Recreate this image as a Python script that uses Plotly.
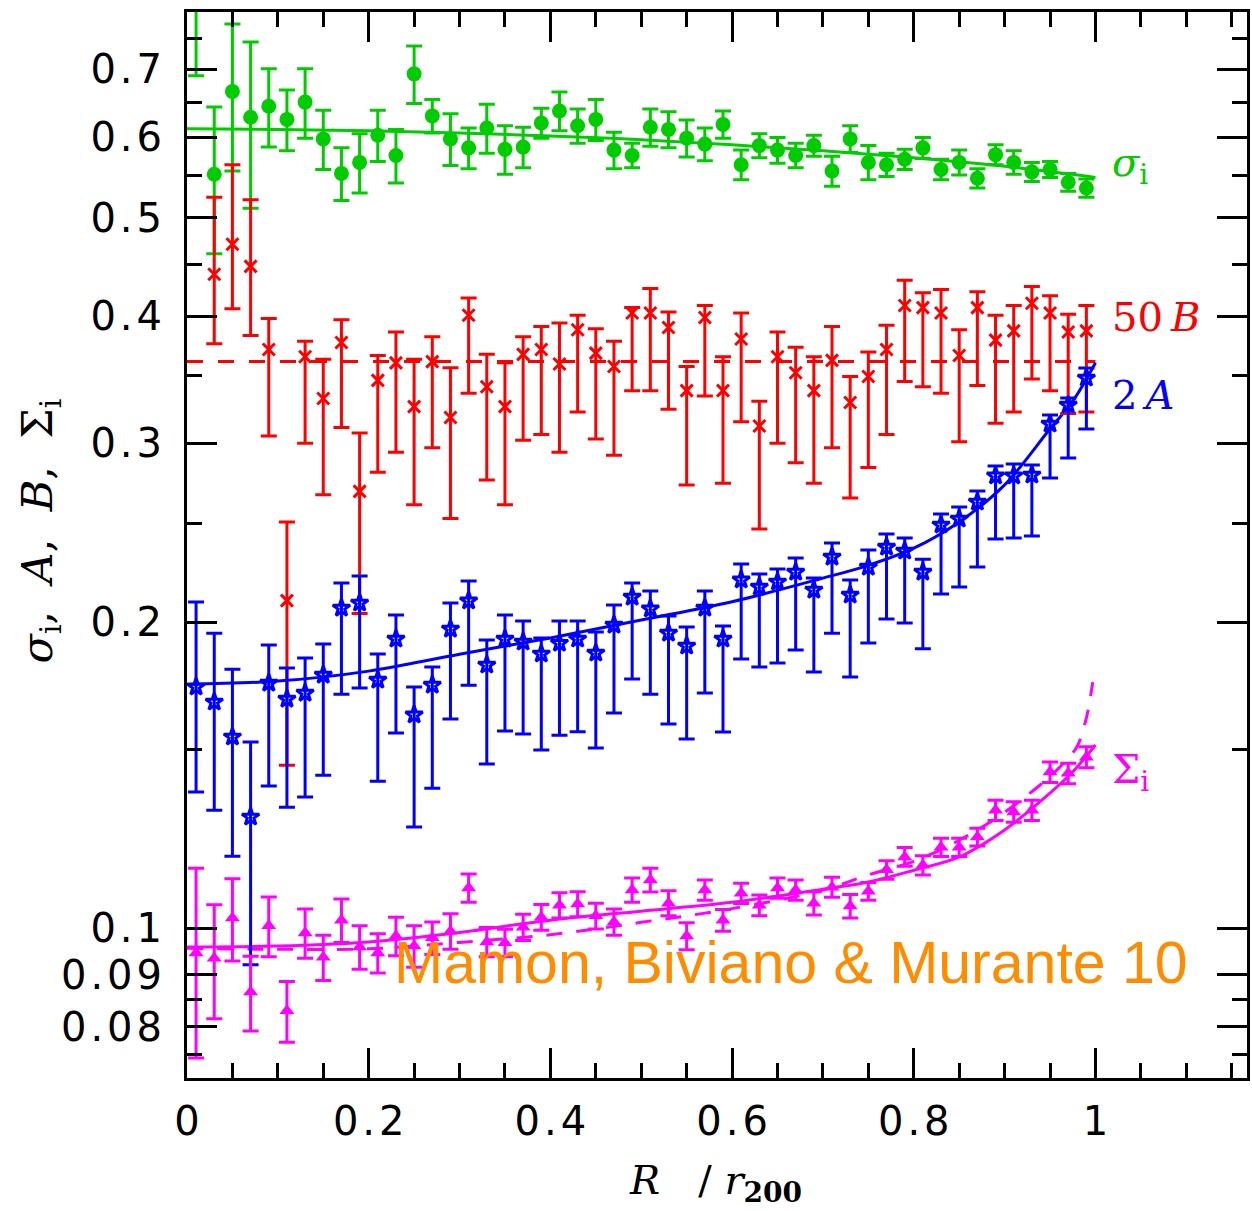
import plotly.graph_objects as go

# Projected radius bins, R / r200
R = [0.01, 0.03, 0.05, 0.07, 0.09, 0.11, 0.13, 0.15, 0.17, 0.19,
     0.21, 0.23, 0.25, 0.27, 0.29, 0.31, 0.33, 0.35, 0.37, 0.39,
     0.41, 0.43, 0.45, 0.47, 0.49, 0.51, 0.53, 0.55, 0.57, 0.59,
     0.61, 0.63, 0.65, 0.67, 0.69, 0.71, 0.73, 0.75, 0.77, 0.79,
     0.81, 0.83, 0.85, 0.87, 0.89, 0.91, 0.93, 0.95, 0.97, 0.99]

# sigma_i: interloper velocity dispersion
sigma_i = [0.840, 0.552, 0.666, 0.628, 0.644, 0.625, 0.650, 0.598, 0.553, 0.567,
           0.603, 0.576, 0.693, 0.630, 0.598, 0.586, 0.613, 0.584, 0.587, 0.620,
           0.637, 0.616, 0.625, 0.583, 0.576, 0.614, 0.611, 0.599, 0.591, 0.618,
           0.564, 0.589, 0.583, 0.576, 0.589, 0.556, 0.598, 0.567, 0.564, 0.571,
           0.586, 0.558, 0.567, 0.547, 0.577, 0.567, 0.555, 0.558, 0.542, 0.535]
sigma_i_err = [0.150, 0.091, 0.110, 0.117, 0.057, 0.043, 0.051, 0.040, 0.033, 0.038,
               0.035, 0.035, 0.045, 0.024, 0.035, 0.027, 0.034, 0.032, 0.027, 0.021,
               0.028, 0.024, 0.029, 0.024, 0.016, 0.026, 0.025, 0.025, 0.022, 0.019,
               0.019, 0.016, 0.017, 0.016, 0.014, 0.019, 0.018, 0.022, 0.015, 0.013,
               0.014, 0.013, 0.016, 0.012, 0.013, 0.015, 0.012, 0.010, 0.011, 0.011]

# 50 B (no measurement in the innermost bin)
B50 = [None, 0.440, 0.471, 0.448, 0.371, 0.210, 0.365, 0.332, 0.377, 0.269,
       0.346, 0.360, 0.326, 0.361, 0.318, 0.401, 0.341, 0.326, 0.367, 0.371,
       0.359, 0.388, 0.368, 0.357, 0.403, 0.403, 0.390, 0.338, 0.399, 0.338,
       0.380, 0.312, 0.365, 0.352, 0.338, 0.362, 0.329, 0.349, 0.371, 0.410,
       0.408, 0.403, 0.366, 0.408, 0.379, 0.387, 0.412, 0.403, 0.386, 0.387]
B50_hi = [None, 0.524, 0.564, 0.521, 0.398, 0.251, 0.378, 0.363, 0.397, 0.307,
          0.366, 0.386, 0.363, 0.382, 0.356, 0.417, 0.367, 0.360, 0.382, 0.391,
          0.394, 0.401, 0.389, 0.378, 0.408, 0.426, 0.404, 0.357, 0.410, 0.365,
          0.403, 0.330, 0.386, 0.373, 0.365, 0.391, 0.349, 0.369, 0.392, 0.434,
          0.422, 0.425, 0.388, 0.423, 0.401, 0.410, 0.428, 0.419, 0.402, 0.410]
B50_lo = [None, 0.376, 0.407, 0.383, 0.305, 0.1446, 0.300, 0.267, 0.311, 0.204,
          0.281, 0.294, 0.261, 0.297, 0.253, 0.336, 0.276, 0.261, 0.302, 0.306,
          0.294, 0.322, 0.303, 0.292, 0.338, 0.338, 0.324, 0.273, 0.334, 0.274,
          0.315, 0.247, 0.300, 0.287, 0.274, 0.297, 0.265, 0.284, 0.306, 0.345,
          0.341, 0.336, 0.301, 0.342, 0.314, 0.322, 0.347, 0.338, 0.321, 0.322]
B50_fit = 0.361

# 2 A
A2 = [0.1727, 0.1669, 0.1542, 0.1286, 0.1742, 0.1680, 0.1703, 0.1774, 0.2065, 0.2089,
      0.1754, 0.1925, 0.1621, 0.1734, 0.1969, 0.2099, 0.1815, 0.1925, 0.1912, 0.1861,
      0.1907, 0.1925, 0.1865, 0.1987, 0.2117, 0.2061, 0.1951, 0.1895, 0.2065, 0.1925,
      0.2201, 0.2166, 0.2191, 0.2240, 0.2151, 0.2318, 0.2127, 0.2266, 0.2371, 0.2350,
      0.2240, 0.2493, 0.2527, 0.2626, 0.2786, 0.2786, 0.2792, 0.3134, 0.3272, 0.3478]
A2_hi = [0.2094, 0.1951, 0.1798, 0.1524, 0.1899, 0.1803, 0.1844, 0.1904, 0.2186, 0.2221,
         0.1861, 0.2033, 0.1727, 0.1807, 0.2089, 0.2196, 0.1921, 0.2033, 0.2005, 0.1930,
         0.2005, 0.2005, 0.1956, 0.2079, 0.2186, 0.2147, 0.2028, 0.1978, 0.2147, 0.1983,
         0.2282, 0.2231, 0.2256, 0.2313, 0.2211, 0.2393, 0.2201, 0.2356, 0.2443, 0.2421,
         0.2307, 0.2556, 0.2597, 0.2693, 0.2850, 0.2862, 0.2856, 0.3198, 0.3324, 0.3558]
A2_lo = [0.1361, 0.1306, 0.1177, 0.0920, 0.1380, 0.1315, 0.1346, 0.1414, 0.1699, 0.1723,
         0.1395, 0.1556, 0.1257, 0.1373, 0.1606, 0.1734, 0.1450, 0.1563, 0.1552, 0.1497,
         0.1548, 0.1560, 0.1504, 0.1628, 0.1758, 0.1699, 0.1588, 0.1535, 0.1703, 0.1559,
         0.1840, 0.1807, 0.1823, 0.1878, 0.1786, 0.1951, 0.1766, 0.1908, 0.2015, 0.1996,
         0.1883, 0.2132, 0.2166, 0.2266, 0.2415, 0.2421, 0.2432, 0.2773, 0.2901, 0.3098]

# Sigma_i: interloper surface density
Sig_i = [0.0945, 0.0934, 0.1023, 0.0865, 0.1005, 0.0829, 0.0989, 0.0936, 0.1018, 0.0958,
         0.0945, 0.0982, 0.0960, 0.0978, 0.0993, 0.1095, 0.0969, 0.0967, 0.1002, 0.1025,
         0.1053, 0.1056, 0.1028, 0.1014, 0.1090, 0.1115, 0.1058, 0.0982, 0.1090, 0.1018,
         0.1082, 0.1053, 0.1095, 0.1090, 0.1058, 0.1097, 0.1051, 0.1087, 0.1141, 0.1175,
         0.1153, 0.1201, 0.1201, 0.1229, 0.1306, 0.1301, 0.1306, 0.1424, 0.1420, 0.1473]
Sig_i_err = [0.0200, 0.0120, 0.0095, 0.0073, 0.0068, 0.0057, 0.0055, 0.0048, 0.0050, 0.0047,
             0.0042, 0.0043, 0.0045, 0.0036, 0.0040, 0.0035, 0.0032, 0.0030, 0.0030, 0.0030,
             0.0030, 0.0030, 0.0030, 0.0030, 0.0030, 0.0030, 0.0030, 0.0030, 0.0025, 0.0025,
             0.0025, 0.0025, 0.0025, 0.0025, 0.0028, 0.0025, 0.0028, 0.0022, 0.0024, 0.0025,
             0.0025, 0.0025, 0.0025, 0.0025, 0.0030, 0.0030, 0.0030, 0.0033, 0.0033, 0.0035]

# Model fits
fit_R_sigma = [0.0, 0.1, 0.2, 0.3, 0.4, 0.5, 0.6, 0.7, 0.8, 0.9, 1.0]
fit_sigma = [0.612, 0.611, 0.609, 0.606, 0.602, 0.597, 0.590, 0.582, 0.573, 0.562, 0.548]

fit_R = [0.0, 0.1, 0.2, 0.3, 0.4, 0.5, 0.6, 0.7, 0.75, 0.8, 0.85, 0.9, 0.95, 0.975, 1.0]
fit_A2 = [0.1738, 0.1750, 0.1790, 0.1860, 0.1930, 0.2010, 0.2095, 0.2210, 0.2275,
          0.2365, 0.2510, 0.2730, 0.3100, 0.3300, 0.3600]
fit_Sig = [0.0958, 0.0960, 0.0969, 0.0990, 0.1018, 0.1039, 0.1060, 0.1092, 0.1110,
           0.1140, 0.1175, 0.1249, 0.1358, 0.1425, 0.1514]

fit_R_alt = [0.0, 0.1, 0.2, 0.3, 0.4, 0.5, 0.6, 0.7, 0.75, 0.8, 0.85, 0.9, 0.95,
             0.97, 0.98, 0.99, 0.997]
fit_Sig_alt = [0.0955, 0.0953, 0.0954, 0.0968, 0.0985, 0.1013, 0.1045, 0.1090, 0.1128,
               0.1163, 0.1220, 0.1300, 0.1410, 0.1470, 0.1510, 0.1610, 0.1746]

# Axis ticks
x_ticks = [0, 0.2, 0.4, 0.6, 0.8, 1.0]
x_ticktext = ["0", "0.2", "0.4", "0.6", "0.8", "1"]
x_minor = [0.05, 0.1, 0.15, 0.25, 0.3, 0.35, 0.45, 0.5, 0.55, 0.65, 0.7, 0.75,
           0.85, 0.9, 0.95, 1.05, 1.1, 1.15]
y_ticks = [0.08, 0.09, 0.1, 0.2, 0.3, 0.4, 0.5, 0.6, 0.7]
y_ticktext = ["0.08", "0.09", "0.1", "0.2", "0.3", "0.4", "0.5", "0.6", "0.7"]
y_minor = [0.075, 0.085, 0.15, 0.25, 0.35, 0.45, 0.55, 0.65, 0.75]

GREEN = "#00cc00"
RED = "#ff0000"
BLUE = "#0000ff"
MAGENTA = "#ff00ff"
ORANGE = "#ff8c00"

TICK_FONT = "DejaVu Sans"
SERIF = "DejaVu Serif"
HAIR = "\u200a"


def spaced(label):
    # open up the tick-label glyphs a little
    return HAIR.join(label)


fig = go.Figure()

# fitted curves
fig.add_trace(go.Scatter(x=fit_R_sigma, y=fit_sigma, mode="lines", line_shape="spline",
                         line=dict(color=GREEN, width=3), showlegend=False))
fig.add_trace(go.Scatter(x=[0.0, 1.0], y=[B50_fit, B50_fit], mode="lines",
                         line=dict(color=RED, width=3, dash="16px,15px"), showlegend=False))
fig.add_trace(go.Scatter(x=fit_R, y=fit_A2, mode="lines", line_shape="spline",
                         line=dict(color=BLUE, width=3), showlegend=False))
fig.add_trace(go.Scatter(x=fit_R, y=fit_Sig, mode="lines", line_shape="spline",
                         line=dict(color=MAGENTA, width=3), showlegend=False))
fig.add_trace(go.Scatter(x=fit_R_alt, y=fit_Sig_alt, mode="lines", line_shape="spline",
                         line=dict(color=MAGENTA, width=3, dash="16px,14px"), showlegend=False))

# measurements
fig.add_trace(go.Scatter(
    x=R, y=sigma_i, mode="markers",
    marker=dict(symbol="circle", size=15, color=GREEN),
    error_y=dict(type="data", array=sigma_i_err, color=GREEN, thickness=3, width=8),
    showlegend=False))

B50_up = [None if v is None else h - v for v, h in zip(B50, B50_hi)]
B50_dn = [None if v is None else v - l for v, l in zip(B50, B50_lo)]
fig.add_trace(go.Scatter(
    x=R, y=B50, mode="markers",
    marker=dict(symbol="x-thin", size=12, color=RED, line=dict(color=RED, width=3)),
    error_y=dict(type="data", symmetric=False, array=B50_up, arrayminus=B50_dn,
                 color=RED, thickness=3, width=8),
    showlegend=False))

A2_up = [h - v for v, h in zip(A2, A2_hi)]
A2_dn = [v - l for v, l in zip(A2, A2_lo)]
fig.add_trace(go.Scatter(
    x=R, y=A2, mode="markers",
    marker=dict(symbol="star-open", size=13, color=BLUE, line=dict(color=BLUE, width=3)),
    error_y=dict(type="data", symmetric=False, array=A2_up, arrayminus=A2_dn,
                 color=BLUE, thickness=3, width=8),
    showlegend=False))

fig.add_trace(go.Scatter(
    x=R, y=Sig_i, mode="markers",
    marker=dict(symbol="triangle-up", size=13, color=MAGENTA),
    error_y=dict(type="data", array=Sig_i_err, color=MAGENTA, thickness=3, width=8),
    showlegend=False))

# curve labels
labels = [
    ("<i>σ</i><sub>i</sub>", -0.249, GREEN),
    ("50\u2009<i>B</i>", -0.3986, RED),
    ("2\u2009<i>A</i>", -0.4754, BLUE),
    ("Σ<sub>i</sub>", -0.8465, MAGENTA),
]
for text, ylog, col in labels:
    fig.add_annotation(x=1.0165, y=ylog, xref="x", yref="y", text=text, showarrow=False,
                       xanchor="left", yanchor="middle",
                       font=dict(family=SERIF, size=40, color=col))

fig.add_annotation(x=0.226, y=-1.0344, xref="x", yref="y",
                   text="Mamon, Biviano &amp; Murante 10", showarrow=False,
                   xanchor="left", yanchor="middle",
                   font=dict(family="Liberation Sans", size=59, color=ORANGE))

# axis titles
fig.add_annotation(x=-0.1383, y=0.5131, xref="paper", yref="paper",
                   text="<i>σ</i><sub>i</sub>,&nbsp;&nbsp;<i>A</i>,&nbsp;&nbsp;<i>B</i>,"
                        "&nbsp;&nbsp;Σ<sub>i</sub>",
                   textangle=-90, showarrow=False, xanchor="center", yanchor="middle",
                   font=dict(family=SERIF, size=43, color="black"))
fig.add_annotation(x=0.4986, y=-0.0985, xref="paper", yref="paper",
                   text="<i>R</i>   / <i>r</i><sub><b>200</b></sub>",
                   showarrow=False, xanchor="center", yanchor="middle",
                   font=dict(family=SERIF, size=40, color="black"))

axis_common = dict(
    showline=True, linewidth=3, linecolor="black", mirror="ticks",
    ticks="inside", ticklen=30, tickwidth=3, tickcolor="black",
    showgrid=False, zeroline=False,
    tickfont=dict(family=TICK_FONT, size=40, color="black"),
)

fig.update_layout(
    width=1252, height=1211,
    margin=dict(l=187, r=2, t=12, b=133),
    paper_bgcolor="white", plot_bgcolor="white",
    xaxis=dict(range=[0, 1.1668], tickmode="array", tickvals=x_ticks,
               ticktext=[spaced(t) for t in x_ticktext], ticklabelstandoff=6,
               minor=dict(tickmode="array", tickvals=x_minor, ticks="inside", ticklen=15,
                          tickwidth=3, tickcolor="black", showgrid=False),
               **axis_common),
    yaxis=dict(type="log", range=[-1.1476, -0.0984], tickmode="array", tickvals=y_ticks,
               ticktext=[spaced(t) for t in y_ticktext], ticklabelstandoff=14,
               minor=dict(tickmode="array", tickvals=y_minor, ticks="inside", ticklen=15,
                          tickwidth=3, tickcolor="black", showgrid=False),
               **axis_common),
)

fig.write_html("out.html")
